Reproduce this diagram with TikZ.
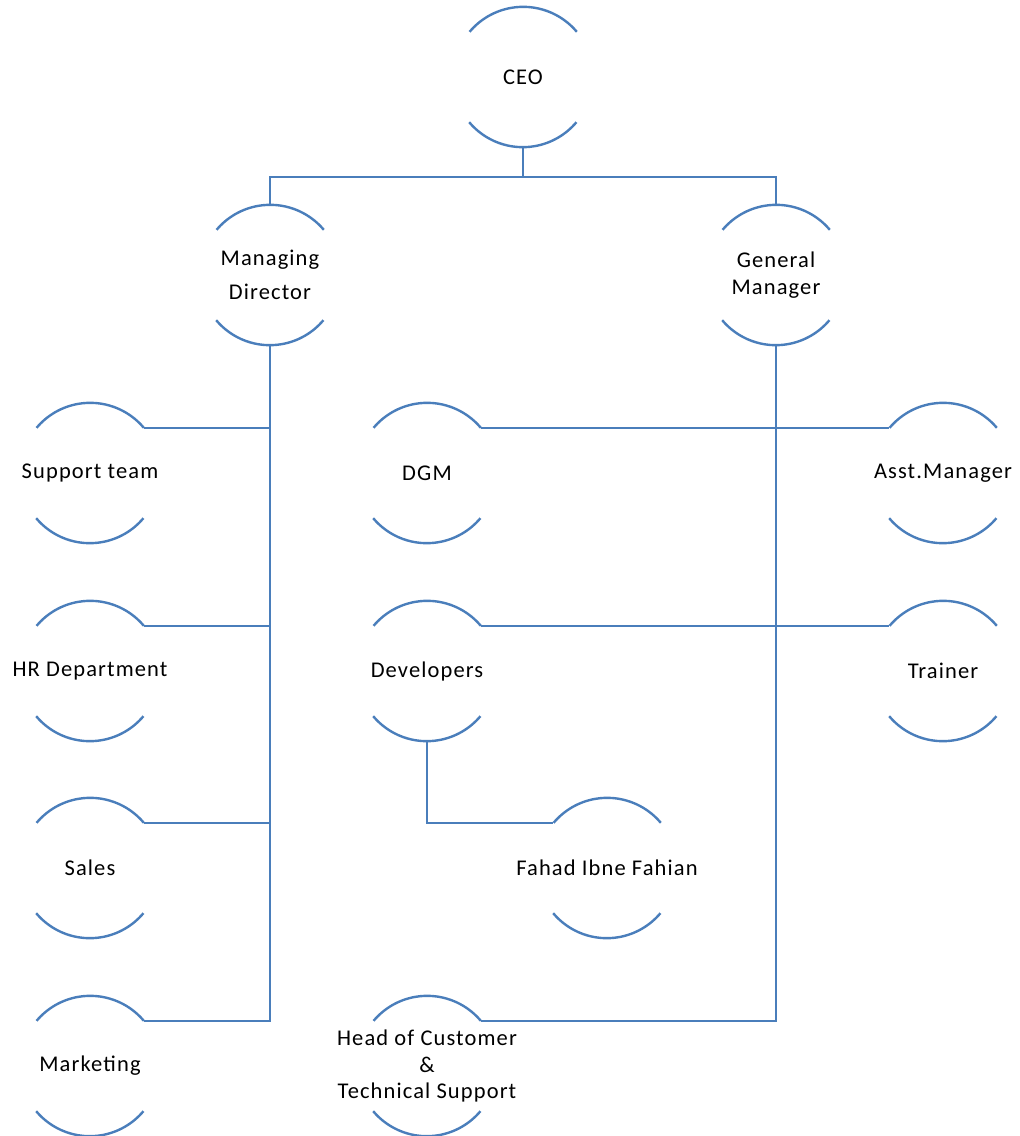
\documentclass[tikz,border=0pt]{standalone}
\usepackage{fontspec}
\setmainfont{Carlito}[LetterSpace=5]
\usepackage{tikz}
\usetikzlibrary{positioning, calc}
\definecolor{orgblue}{HTML}{4A7EBB}

\begin{document}
\begin{tikzpicture}[
  post/.style={
    circle,
    minimum size=3.5cm,
    inner sep=0pt
  },
  title/.style={
    align=center,
    font=\fontsize{16}{19}\selectfont
  },
  link/.style={draw=orgblue, line width=1.7pt}
]
  \useasboundingbox (0,0) rectangle (25.5,-28.4);

  % Top
  \node[post, label={[title]center:CEO}] (ceo) at (13.075,-1.925) {};
  \node[post, label={[title]center:{Managing\\[5pt]Director}}] (md) at (6.75,-6.875) {};
  \node[post, label={[title]center:{General\\Manager}}] (gm) at (19.4,-6.875) {};

  % Managing Director side
  \node[post, label={[title]center:Support team}] (support) at (2.25,-11.825) {};
  \node[post, label={[title]center:HR Department}] (hr) at (2.25,-16.775) {};
  \node[post, label={[title]center:Sales}] (sales) at (2.25,-21.7) {};
  \node[post, label={[title]center:Marketing}] (marketing) at (2.25,-26.65) {};

  % General Manager side
  \node[post, label={[title]center:DGM}] (dgm) at (10.675,-11.825) {};
  \node[post, label={[title]center:Developers}] (devs) at (10.675,-16.775) {};
  \node[post, label={[title]center:Asst.Manager}] (asst) at (23.575,-11.825) {};
  \node[post, label={[title]center:Trainer}] (trainer) at (23.575,-16.775) {};
  \node[post, label={[title]center:Fahad Ibne Fahian}] (fahad) at (15.175,-21.7) {};
  \node[post, label={[title]center:{Head of Customer\\\&\\Technical Support}}] (head) at (10.675,-26.65) {};

  % Arcs
  \foreach \n in {ceo, md, gm, support, hr, sales, marketing, dgm, devs, asst, trainer, fahad, head} {
    \draw[link] (\n.40) arc[start angle=40, end angle=140, radius=1.75cm];
    \draw[link] (\n.220) arc[start angle=220, end angle=320, radius=1.75cm];
  }

  % Links
  \draw[link] (ceo.south) -- ++(0,-0.75) -| (md.north);
  \draw[link] (ceo.south) -- ++(0,-0.75) -| (gm.north);
  \draw[link] (md.south) |- (support.40);
  \draw[link] (md.south) |- (hr.40);
  \draw[link] (md.south) |- (sales.40);
  \draw[link] (md.south) |- (marketing.40);
  \draw[link] (gm.south) |- (dgm.40);
  \draw[link] (gm.south) |- (asst.140);
  \draw[link] (gm.south) |- (devs.40);
  \draw[link] (gm.south) |- (trainer.140);
  \draw[link] (gm.south) |- (head.40);
  \draw[link] (devs.south) |- (fahad.140);
\end{tikzpicture}
\end{document}
